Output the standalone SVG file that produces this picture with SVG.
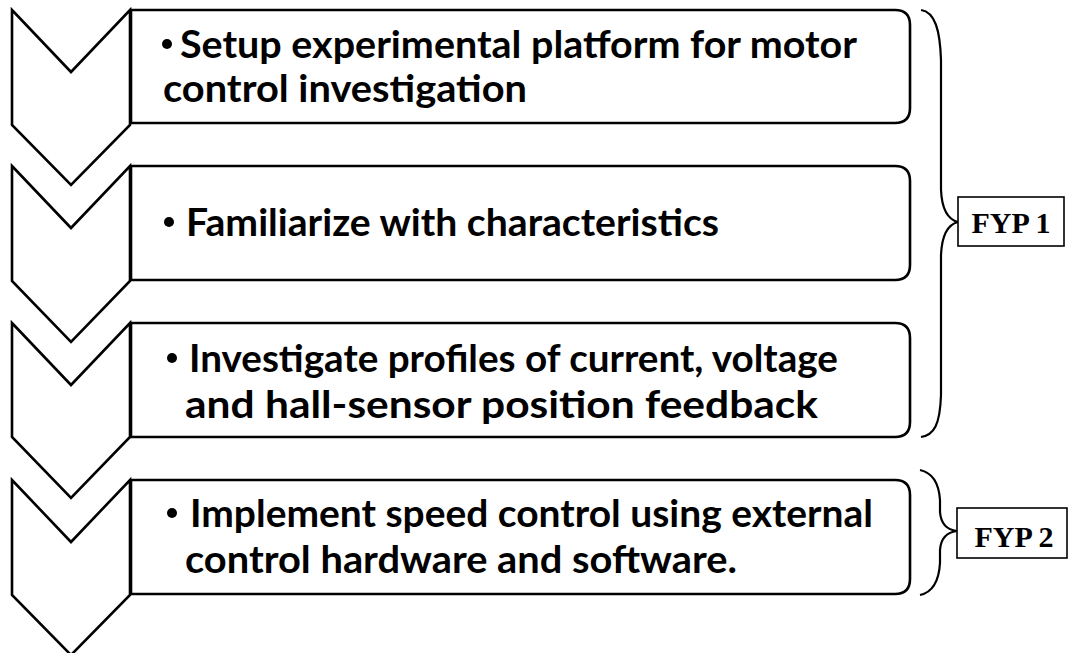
<svg xmlns="http://www.w3.org/2000/svg" width="1070" height="653" viewBox="0 0 1070 653">
<style>
.chev{fill:none;stroke:#000;stroke-width:2.6;stroke-linejoin:miter}
.box{fill:#fff;stroke:#000;stroke-width:2.6}
.t{font-family:Lato,"Open Sans",sans-serif;font-weight:700;font-size:38px;fill:#000}
.b{fill:#000}
.brace{fill:none;stroke:#000;stroke-width:2.2}
.lbox{fill:#fff;stroke:#000;stroke-width:1.6}
.lt{font-family:"Liberation Serif","Times New Roman",serif;font-weight:700;font-size:30px;fill:#000}
</style>
<rect width="1070" height="653" fill="#fff"/>
<g id="chevrons">
<path class="chev" d="M12,10 L71,72 L130,10 L130,125 L71,185 L12,125 Z"/>
<path class="chev" d="M12,166 L71,228 L130,166 L130,281 L71,342 L12,281 Z"/>
<path class="chev" d="M12,323 L71,385 L130,323 L130,437 L71,498 L12,437 Z"/>
<path class="chev" d="M12,480 L71,542 L130,480 L130,595 L71,655 L12,595 Z"/>
</g>
<g id="node1">
<path class="box" d="M131,10 H895 Q910,10 910,25 V108 Q910,123 895,123 H131 Z"/>
<circle class="b" cx="167" cy="44" r="5"/>
<text class="t" x="180" y="58" textLength="677" lengthAdjust="spacingAndGlyphs">Setup experimental platform for motor</text>
<text class="t" x="163" y="102" textLength="364" lengthAdjust="spacingAndGlyphs">control investigation</text>
</g>
<g id="node2">
<path class="box" d="M131,166 H895 Q910,166 910,181 V265 Q910,280 895,280 H131 Z"/>
<circle class="b" cx="169" cy="222" r="5"/>
<text class="t" x="186" y="236" textLength="533" lengthAdjust="spacingAndGlyphs">Familiarize with characteristics</text>
</g>
<g id="node3">
<path class="box" d="M131,323 H895 Q910,323 910,338 V422 Q910,437 895,437 H131 Z"/>
<circle class="b" cx="172" cy="358" r="5"/>
<text class="t" x="189" y="372" textLength="649" lengthAdjust="spacingAndGlyphs">Investigate profiles of current, voltage</text>
<text class="t" x="185" y="418" textLength="633" lengthAdjust="spacingAndGlyphs">and hall-sensor position feedback</text>
</g>
<g id="node4">
<path class="box" d="M131,480 H895 Q910,480 910,495 V579 Q910,594 895,594 H131 Z"/>
<circle class="b" cx="172" cy="513" r="5"/>
<text class="t" x="190" y="527" textLength="683" lengthAdjust="spacingAndGlyphs">Implement speed control using external</text>
<text class="t" x="185" y="573" textLength="552" lengthAdjust="spacingAndGlyphs">control hardware and software.</text>
</g>
<g id="connectors">
<path class="brace" d="M921,10 C935,12 940,30 941,60 L941,190 C942,212 950,220 958,222 C950,224 942,232 941,255 L941,395 C940,425 934,435 921,437"/>
<path class="brace" d="M920,470 C934,473 939,485 940,500 L940,512 C941,525 948,530 957,531 C948,532 941,537 940,550 L940,563 C939,580 934,592 920,595"/>
</g>
<g id="fyp1">
<rect class="lbox" x="958" y="197" width="106" height="49"/>
<text class="lt" x="1011" y="233" text-anchor="middle">FYP 1</text>
</g>
<g id="fyp2">
<rect class="lbox" x="957" y="508" width="110" height="50"/>
<text class="lt" x="1014" y="547" text-anchor="middle">FYP 2</text>
</g>
</svg>
